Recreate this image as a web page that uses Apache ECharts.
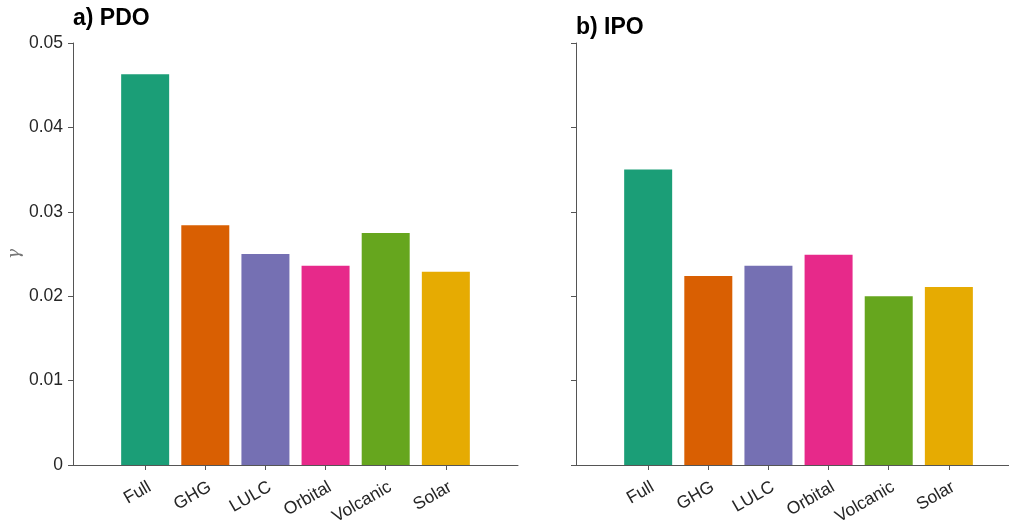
<!DOCTYPE html>
<html>
<head>
<meta charset="utf-8">
<script src="https://cdn.jsdelivr.net/npm/echarts@6/dist/echarts.min.js"></script>
<style>
  html, body { margin: 0; padding: 0; background: #fff; }
  #chart { width: 1009px; height: 522px; }
</style>
</head>
<body>
<div id="chart"></div>
<script>
// Forcing experiments and their bar colours
const categories = ['Full', 'GHG', 'LULC', 'Orbital', 'Volcanic', 'Solar'];
const colors = ['#1b9e77', '#d95f02', '#7570b3', '#e7298a', '#66a61e', '#e6ab02'];
// gamma values per experiment
const pdoValues = [0.0463, 0.0284, 0.0250, 0.0236, 0.0275, 0.0229];
const ipoValues = [0.0350, 0.0224, 0.0236, 0.0249, 0.0200, 0.0211];
const yTicks = [0, 0.01, 0.02, 0.03, 0.04, 0.05];
const panelTitles = ['a) PDO', 'b) IPO'];

const FONT = 'Liberation Sans, Arial, Helvetica, sans-serif';
const AXIS_COLOR = '#555';
const positions = categories.map((_, i) => i + 1);

function barData(values) {
  return values.map((v, i) => ({ value: [positions[i], v], itemStyle: { color: colors[i] } }));
}

function xAxis(gridIndex, max) {
  return {
    type: 'value', gridIndex, min: -0.2, max: max,
    axisLine: { show: true, onZero: false, lineStyle: { color: AXIS_COLOR, width: 1 } },
    axisTick: { show: true, customValues: positions, length: 5, lineStyle: { color: AXIS_COLOR } },
    axisLabel: {
      show: true, customValues: positions, rotate: 30, margin: 13,
      verticalAlign: 'top',
      fontSize: 17.5, fontFamily: FONT, color: '#262626',
      formatter: v => categories[Math.round(v) - 1] || ''
    },
    splitLine: { show: false }
  };
}

function yAxis(gridIndex, showLabels) {
  return {
    type: 'value', gridIndex, min: yTicks[0], max: yTicks[yTicks.length - 1], interval: 0.01,
    name: showLabels ? 'γ' : '', nameLocation: 'middle', nameGap: 50, nameRotate: 90,
    nameTextStyle: { fontSize: 17, fontFamily: 'DejaVu Serif, serif', fontStyle: 'italic', color: '#777' },
    axisLine: { show: true, onZero: false, lineStyle: { color: AXIS_COLOR, width: 1 } },
    axisTick: { show: true, length: 5, lineStyle: { color: AXIS_COLOR } },
    axisLabel: {
      show: showLabels, fontSize: 17.5, fontFamily: FONT, color: '#262626', margin: 10,
      formatter: v => String(Number(v.toFixed(2)))
    },
    splitLine: { show: false }
  };
}

const titleStyle = { fontSize: 23, fontWeight: 'bold', fontFamily: FONT, color: '#000' };

const chart = echarts.init(document.getElementById('chart'), null, { renderer: 'canvas' });
chart.setOption({
  animation: false,
  backgroundColor: '#fff',
  title: [
    { text: panelTitles[0], left: 73, top: 7, padding: 0, textStyle: titleStyle },
    { text: panelTitles[1], left: 576, top: 16, padding: 0, textStyle: titleStyle }
  ],
  grid: [
    { left: 73, top: 43, width: 445, height: 422, containLabel: false, outerBoundsMode: 'none' },
    { left: 576, top: 43, width: 433, height: 422, containLabel: false, outerBoundsMode: 'none' }
  ],
  xAxis: [xAxis(0, 7.2), xAxis(1, 7.0)],
  yAxis: [yAxis(0, true), yAxis(1, false)],
  series: [
    { type: 'bar', xAxisIndex: 0, yAxisIndex: 0, barWidth: 48, data: barData(pdoValues) },
    { type: 'bar', xAxisIndex: 1, yAxisIndex: 1, barWidth: 48, data: barData(ipoValues) }
  ]
});
</script>
</body>
</html>
